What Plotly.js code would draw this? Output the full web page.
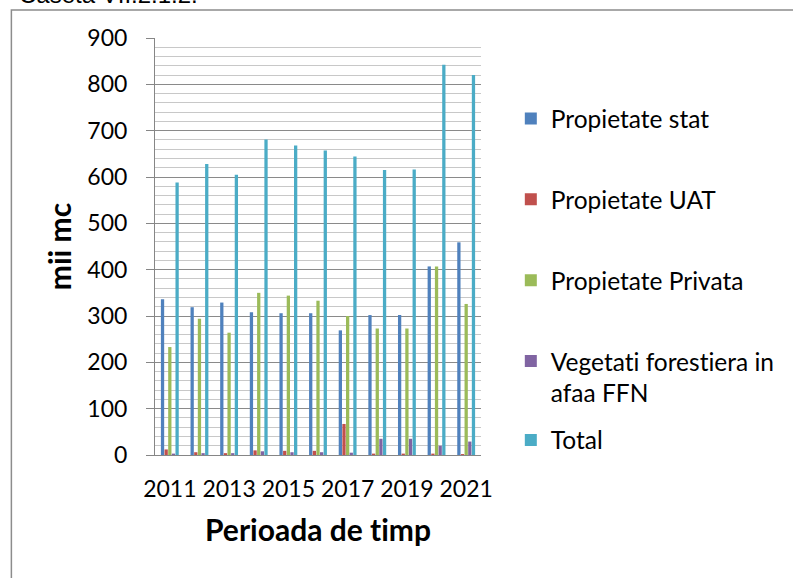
<!DOCTYPE html>
<html>
<head>
<meta charset="utf-8">
<script src="https://cdn.plot.ly/plotly-3.0.1.min.js"></script>
<style>
html,body{margin:0;padding:0;background:#fff;}
#chart{width:793px;height:578px;}
#chart text{font-variant-ligatures:none;font-feature-settings:"liga" 0, "clig" 0;}
</style>
</head>
<body>
<div id="chart"></div>
<script>
const years = ["2011","2012","2013","2014","2015","2016","2017","2018","2019","2020","2021"];
const tickYears = ["2011","2013","2015","2017","2019","2021"];
const propStat = [336, 319, 329, 308, 306, 306, 269, 302, 302, 407, 459];
const propUAT = [12, 6, 4, 10, 9, 9, 67, 3, 3, 3, 2];
const propPrivata = [233, 294, 264, 350, 344, 333, 300, 273, 273, 407, 326];
const vegetatie = [3, 4, 4, 8, 6, 6, 5, 35, 35, 20, 29];
const total = [588, 628, 605, 681, 668, 657, 644, 615, 616, 842, 820];
const seriesNames = ["Propietate stat", "Propietate UAT", "Propietate Privata", "Vegetati forestiera in<br>afaa FFN", "Total"];
const seriesColors = ["#4F81BD", "#C0504D", "#9BBB59", "#8064A2", "#4BACC6"];
const seriesData = [propStat, propUAT, propPrivata, vegetatie, total];

const traces = seriesData.map((vals, i) => ({
  type: "bar",
  x: years,
  y: vals,
  name: seriesNames[i],
  legendgroup: "g" + i,
  legend: i === 4 ? "legend2" : "legend",
  marker: {color: seriesColors[i]},
  hoverinfo: "x+y+name"
}));

const L = 155, R = 483, T = 38, B = 455;
const pw = R - L, ph = B - T;
const px2x = p => (p - L) / pw;
const py2y = p => (B - p) / ph;
const legFont = {family: "Lato, sans-serif", size: 24.5, color: "#000"};

const layout = {
  width: 793, height: 578,
  margin: {l: L, r: 793 - R, t: T, b: 578 - B},
  paper_bgcolor: "#ffffff",
  plot_bgcolor: "#ffffff",
  barmode: "group",
  bargap: 0.385,
  bargroupgap: 0.1,
  showlegend: true,
  font: {family: "Lato, sans-serif", color: "#000000"},
  xaxis: {
    type: "category",
    tickvals: tickYears,
    ticktext: tickYears,
    showgrid: false,
    showline: true,
    linecolor: "#868686",
    linewidth: 1,
    ticks: "",
    tickfont: {family: "Lato, sans-serif", size: 23, color: "#000"},
    ticklabelstandoff: 13,
    title: {text: "<b>Perioada de timp</b>", font: {family: "Lato, sans-serif", size: 30, color: "#000"}, standoff: 19},
    automargin: false
  },
  yaxis: {
    range: [0, 900],
    dtick: 100,
    tick0: 0,
    showgrid: true,
    gridcolor: "#8a8a8a",
    gridwidth: 1,
    minor: {dtick: 20, showgrid: true, gridcolor: "#c8c8c8", gridwidth: 1, ticks: ""},
    showline: true,
    linecolor: "#868686",
    linewidth: 1,
    ticks: "outside",
    ticklen: 8,
    tickcolor: "#868686",
    tickfont: {family: "Lato, sans-serif", size: 23, color: "#000"},
    ticklabelstandoff: 14,
    zeroline: false,
    title: {text: "<b>mii mc</b>", font: {family: "Lato, sans-serif", size: 30, color: "#000"}, standoff: 6},
    automargin: false
  },
  legend: {
    x: px2x(513), xanchor: "left",
    y: py2y(96), yanchor: "top",
    font: legFont,
    tracegroupgap: 46,
    valign: "top",
    bgcolor: "rgba(0,0,0,0)",
    itemclick: false
  },
  legend2: {
    x: px2x(513), xanchor: "left",
    y: py2y(440), yanchor: "middle",
    font: legFont,
    valign: "top",
    bgcolor: "rgba(0,0,0,0)",
    itemclick: false
  },
  shapes: [
    {type: "rect", xref: "paper", yref: "paper",
     x0: px2x(10.5), x1: px2x(810), y0: py2y(600), y1: py2y(10),
     line: {color: "#8c8c8c", width: 1.5}, fillcolor: "rgba(0,0,0,0)", layer: "below"}
  ],
  annotations: [
    {xref: "paper", yref: "paper", x: px2x(16), y: py2y(10), xanchor: "left", yanchor: "bottom",
     text: "Caseta VII.2.1.2.", showarrow: false,
     font: {family: "Liberation Sans, Arial, sans-serif", size: 24, color: "#000"}}
  ]
};

Plotly.newPlot("chart", traces, layout, {displayModeBar: false, staticPlot: true});
</script>
</body>
</html>
